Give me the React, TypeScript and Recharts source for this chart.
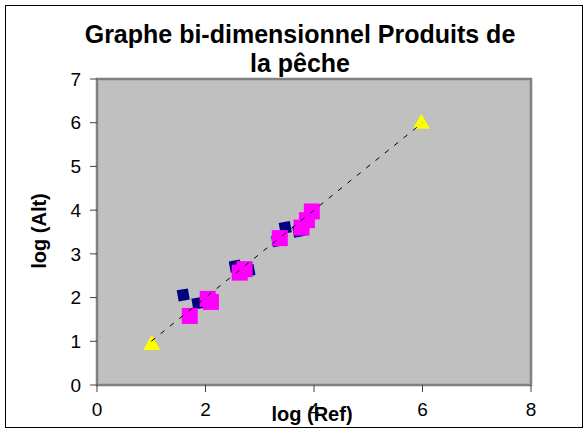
import React from 'react';
import { ScatterChart, Scatter, XAxis, YAxis, ReferenceArea } from 'recharts';

const xTicks = [0, 2, 4, 6, 8];
const yTicks = [0, 1, 2, 3, 4, 5, 6, 7];

const diamondX = [1.59, 1.86, 2.55, 2.8, 3.33, 3.47, 3.72, 3.95];
const diamondY = [2.06, 1.87, 2.72, 2.62, 3.3, 3.6, 3.52, 3.95];

const squareX = [1.71, 2.04, 2.1, 2.63, 2.72, 3.37, 3.77, 3.87, 3.96];
const squareY = [1.58, 1.97, 1.9, 2.57, 2.65, 3.36, 3.6, 3.77, 3.97];

const triangleX = [1.01, 5.98];
const triangleY = [0.94, 6.0];

const trendX = [1, 6];
const trendY = [1, 6];

const toPoints = (xs: number[], ys: number[]) => xs.map((x, i) => ({ x, y: ys[i] }));

const diamonds = toPoints(diamondX, diamondY);
const squares = toPoints(squareX, squareY);
const triangles = toPoints(triangleX, triangleY);
const trend = toPoints(trendX, trendY);

const FONT = '"Liberation Sans", Arial, sans-serif';

const Diamond = (p: any) => {
  const { cx, cy } = p;
  const r = 8;
  const a = (35 * Math.PI) / 180;
  const pts = [0, 1, 2, 3]
    .map((k) => {
      const t = a + (k * Math.PI) / 2;
      return `${cx + r * Math.cos(t)},${cy + r * Math.sin(t)}`;
    })
    .join(' ');
  return <polygon points={pts} fill="#000080" />;
};

const Square = (p: any) => {
  const { cx, cy } = p;
  const s = 16;
  return <rect x={cx - s / 2} y={cy - s / 2} width={s} height={s} fill="#ff00ff" />;
};

const Triangle = (p: any) => {
  const { cx, cy } = p;
  return (
    <polygon
      points={`${cx},${cy - 9} ${cx - 8.5},${cy + 6} ${cx + 8.5},${cy + 6}`}
      fill="#ffff00"
    />
  );
};

const Nothing = () => <g />;

export default function App() {
  return (
    <div style={{ position: 'absolute', left: 0, top: 0, width: 588, height: 432, background: '#fff' }}>
      <div
        style={{
          position: 'absolute',
          left: 5,
          top: 5,
          width: 578,
          height: 423,
          border: '1px solid #000',
          boxSizing: 'border-box',
        }}
      />
      <ScatterChart
        width={588}
        height={432}
        margin={{ top: 79, right: 57, bottom: 17, left: 37 }}
        style={{ position: 'absolute', left: 0, top: 0 }}
      >
        <ReferenceArea x1={0} x2={8} y1={0} y2={7} fill="#c0c0c0" fillOpacity={1} stroke="#808080" strokeWidth={2.5} />
        <XAxis
          type="number"
          dataKey="x"
          domain={[0, 8]}
          ticks={xTicks}
          height={30}
          axisLine={{ stroke: '#808080', strokeWidth: 2 }}
          tickLine={{ stroke: '#404040' }}
          tickSize={7}
          tickMargin={11}
          tick={{ fill: '#000', fontSize: 19, fontFamily: FONT }}
          interval={0}
        />
        <YAxis
          type="number"
          dataKey="y"
          domain={[0, 7]}
          ticks={yTicks}
          width={60}
          axisLine={{ stroke: '#808080', strokeWidth: 2 }}
          tickLine={{ stroke: '#404040' }}
          tickSize={7}
          tickMargin={9}
          tick={{ fill: '#000', fontSize: 19, fontFamily: FONT }}
          interval={0}
        />
        <Scatter data={diamonds} shape={Diamond} isAnimationActive={false} />
        <Scatter data={squares} shape={Square} isAnimationActive={false} />
        <Scatter data={triangles} shape={Triangle} isAnimationActive={false} />
        <Scatter
          data={trend}
          shape={Nothing}
          line={{ stroke: '#000', strokeWidth: 1, strokeDasharray: '5 7' }}
          isAnimationActive={false}
        />
      </ScatterChart>
      <div
        style={{
          position: 'absolute',
          left: 0,
          width: 600,
          top: 20,
          textAlign: 'center',
          fontFamily: FONT,
          fontWeight: 'bold',
          fontSize: 25,
          lineHeight: '29px',
          color: '#000',
          whiteSpace: 'nowrap',
        }}
      >
        Graphe bi-dimensionnel Produits de
        <br />
        la pêche
      </div>
      <div
        style={{
          position: 'absolute',
          left: 212,
          width: 200,
          top: 402,
          textAlign: 'center',
          fontFamily: FONT,
          fontWeight: 'bold',
          fontSize: 20,
          lineHeight: '24px',
          color: '#000',
        }}
      >
        log (Ref)
      </div>
      <div
        style={{
          position: 'absolute',
          left: -61,
          width: 200,
          top: 219,
          textAlign: 'center',
          fontFamily: FONT,
          fontWeight: 'bold',
          fontSize: 20,
          lineHeight: '24px',
          color: '#000',
          transform: 'rotate(-90deg)',
          transformOrigin: '100px 12px',
        }}
      >
        log (Alt)
      </div>
    </div>
  );
}
